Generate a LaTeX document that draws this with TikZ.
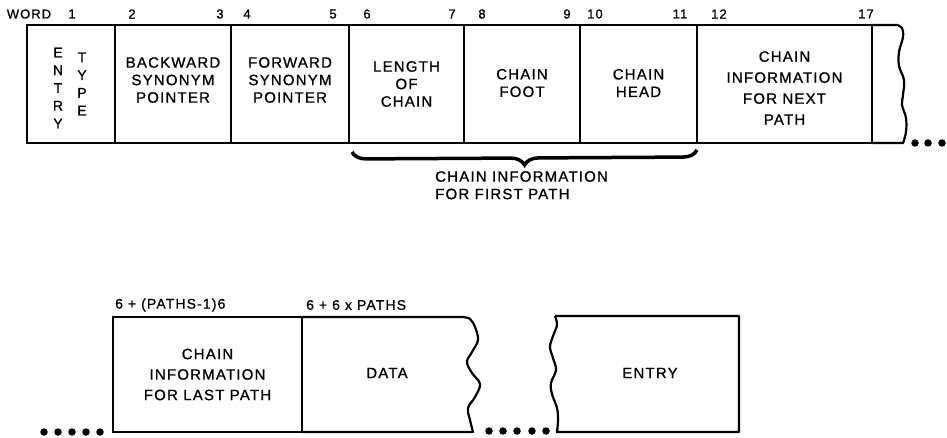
\documentclass[tikz,border=0pt]{standalone}
\usepackage{fontspec}
\setmainfont{Liberation Sans}[LetterSpace=8,FakeBold=1]
\usetikzlibrary{decorations.pathreplacing}
\begin{document}
\begin{tikzpicture}[x=1pt,y=-1pt,
  cell/.style={draw,line width=2.2pt,inner sep=0pt,outer sep=0pt,anchor=north west},
  txt/.style={font=\fontsize{15}{17.5}\selectfont,align=center,inner sep=0pt},
  num/.style={font=\fontsize{13}{15}\selectfont,inner sep=0pt},
  dotn/.style={circle,fill,inner sep=0pt,minimum size=7.5pt},
  edge/.style={line width=2.2pt,line join=round}]
\useasboundingbox (0,0) rectangle (947,438);
% top row cells
\node[cell,minimum width=88,minimum height=118] (c1) at (27,25) {};
\node[cell,minimum width=116,minimum height=118] (c2) at (115,25) {};
\node[cell,minimum width=118,minimum height=118] (c3) at (231,25) {};
\node[cell,minimum width=115,minimum height=118] (c4) at (349,25) {};
\node[cell,minimum width=116,minimum height=118] (c5) at (464,25) {};
\node[cell,minimum width=117,minimum height=118] (c6) at (580,25) {};
\node[cell,minimum width=175,minimum height=118] (c7) at (697,25) {};
\draw[edge] (c7.north east) -- (897,25) -- plot[smooth,tension=0.6] coordinates
  {(897,25) (902,28) (903,37) (899,52) (899,66) (904,80) (903,95) (902,105) (906,118) (906,132) (903,143)}
  -- (c7.south east);
% top row labels
\node[num] (w0) at (29,14) {WORD};
\node[num] (w1) at (72,14) {1};
\node[num] (w2) at (132,14) {2};
\node[num] (w3) at (220,14) {3};
\node[num] (w4) at (247,14) {4};
\node[num] (w5) at (333,14) {5};
\node[num] (w6) at (367,14) {6};
\node[num] (w7) at (452,14) {7};
\node[num] (w8) at (482,14) {8};
\node[num] (w9) at (567,14) {9};
\node[num] (w10) at (595,14) {10};
\node[num] (w11) at (680,14) {11};
\node[num] (w12) at (719,14) {12};
\node[num] (w17) at (866,14) {17};
% top row texts
\node[txt,font=\fontsize{14}{17.75}\selectfont] (entryv) at (58,88) {E\\N\\T\\R\\Y};
\node[txt,font=\fontsize{14}{17.75}\selectfont] (typev) at (82,84) {T\\Y\\P\\E};
\node[txt] (bsp) at (c2.center) [yshift=4] {BACKWARD\\SYNONYM\\POINTER};
\node[txt] (fsp) at (c3.center) [yshift=4] {FORWARD\\SYNONYM\\POINTER};
\node[txt] (loc) at (c4.center) {LENGTH\\OF\\CHAIN};
\node[txt] (cf) at (c5.center) [yshift=1] {CHAIN\\FOOT};
\node[txt] (ch) at (c6.center) [yshift=1] {CHAIN\\HEAD};
\node[txt,font=\fontsize{15}{21}\selectfont] (cinp) at (c7.center) [yshift=-4] {CHAIN\\INFORMATION\\FOR NEXT\\PATH};
% dots top
\foreach \i/\x in {1/915,2/928,3/942} \node[dotn] (td\i) at (\x,143) {};
% brace
\coordinate (bl) at (352,152);
\coordinate (br) at (697,150);
\draw[decorate,decoration={brace,mirror,amplitude=14pt},line width=3.5pt] (bl) -- (br);
\node[txt,align=left,anchor=north west] (firstpath) at (435,171) {CHAIN INFORMATION\\FOR FIRST PATH};
% bottom row
\node[cell,minimum width=189,minimum height=115] (l1) at (113,317) {};
\node[num,anchor=west,font=\fontsize{14}{16}\selectfont] (lab1) at (115,305) {6 + (PATHS-1)6};
\node[num,anchor=west,font=\fontsize{14}{16}\selectfont] (lab2) at (306,305) {6 + 6 x PATHS};
\node[txt,font=\fontsize{15}{20.5}\selectfont] (lastpath) at (l1.center) {CHAIN\\INFORMATION\\FOR LAST PATH};
\draw[edge] (l1.north east) -- (463,317) -- plot[smooth,tension=0.6] coordinates
  {(463,317) (470,319) (475,327) (478,340) (472,352) (467,362) (472,373) (480,384) (475,397) (468,408) (470,420) (473,432)}
  -- (l1.south east);
\node[txt] (data) at (387,373) {DATA};
\coordinate (enw) at (555,316);
\coordinate (ene) at (739,316);
\coordinate (ese) at (739,432);
\coordinate (esw) at (557,432);
\draw[edge] (enw) -- (ene) -- (ese) -- (esw) -- plot[smooth,tension=0.6] coordinates
  {(557,432) (558,420) (557,408) (552,394) (551,383) (556,370) (553,358) (550,347) (553,336) (557,325) (555,316)};
\node[txt] (entry) at (650,373) {ENTRY};
% dots bottom
\foreach \i/\x in {1/44,2/58,3/72,4/86,5/100} \node[dotn] (bd\i) at (\x,432) {};
\foreach \i/\x in {1/489,2/503,3/517,4/532,5/546} \node[dotn] (md\i) at (\x,431) {};
\end{tikzpicture}
\end{document}
